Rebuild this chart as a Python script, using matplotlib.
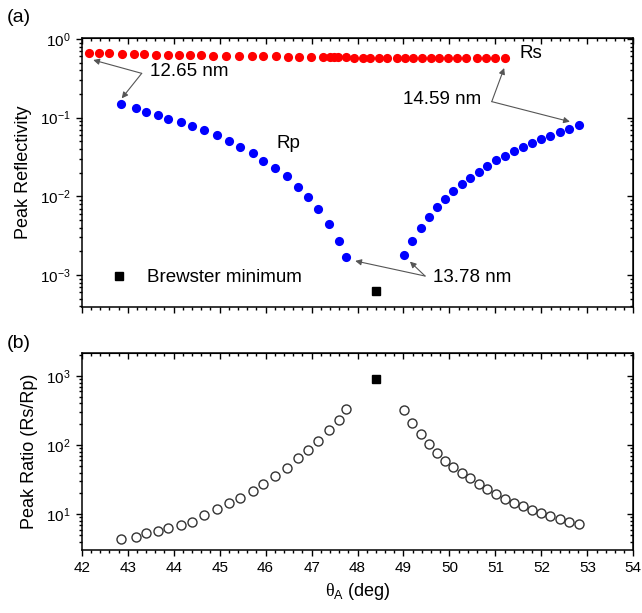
import numpy as np
import matplotlib
matplotlib.use("Agg")
import matplotlib.pyplot as plt
from matplotlib.ticker import LogLocator, NullFormatter, MultipleLocator

plt.rcParams['font.family'] = ['Liberation Sans', 'DejaVu Sans']
plt.rcParams['mathtext.fontset'] = 'custom'
plt.rcParams['mathtext.rm'] = 'Liberation Serif'
plt.rcParams['mathtext.sf'] = 'Liberation Sans'

# Rs peak reflectivity
rs_angle = [42.16, 42.38, 42.59, 42.87, 43.14, 43.36, 43.62, 43.88, 44.12, 44.35,
            44.60, 44.86, 45.14, 45.42, 45.71, 45.95, 46.23, 46.49, 46.73, 46.98,
            47.25, 47.40, 47.49, 47.58, 47.76, 47.93, 48.11, 48.28, 48.46, 48.65,
            48.85, 49.03, 49.21, 49.40, 49.59, 49.78, 49.97, 50.16, 50.36, 50.59,
            50.79, 50.99, 51.21]
rs_peak = [0.658, 0.658, 0.658, 0.650, 0.645, 0.645, 0.632, 0.626, 0.626, 0.626,
           0.621, 0.614, 0.608, 0.608, 0.608, 0.603, 0.603, 0.596, 0.596, 0.590,
           0.585, 0.585, 0.585, 0.585, 0.585, 0.582, 0.582, 0.579, 0.579, 0.579,
           0.574, 0.574, 0.574, 0.574, 0.574, 0.569, 0.569, 0.569, 0.569, 0.569,
           0.569, 0.569, 0.569]

# Rp peak reflectivity, both branches
rp_angle = [42.86, 43.18, 43.40, 43.65, 43.88, 44.15, 44.40, 44.66, 44.95, 45.21,
            45.45, 45.72, 45.95, 46.20, 46.46, 46.71, 46.92, 47.14, 47.37, 47.59, 47.76,
            49.01, 49.19, 49.38, 49.55, 49.72, 49.91, 50.08, 50.27, 50.45, 50.64,
            50.82, 51.02, 51.21, 51.40, 51.60, 51.80, 51.99, 52.19, 52.40, 52.61, 52.82]
rp_peak = [0.148, 0.133, 0.119, 0.108, 0.097, 0.0873, 0.0791, 0.0697, 0.0597, 0.0501,
           0.0428, 0.0352, 0.0284, 0.0227, 0.0181, 0.0133, 0.00973, 0.00690, 0.00445, 0.00273, 0.00168,
           0.00178, 0.00273, 0.00399, 0.00542, 0.00726, 0.00925, 0.0116, 0.0142, 0.0171, 0.0206,
           0.0245, 0.0287, 0.0330, 0.0380, 0.0426, 0.0481, 0.0531, 0.0590, 0.0658, 0.0711, 0.0800]

# peak ratio Rs/Rp at the Rp angles
ratio = [4.40, 4.75, 5.31, 5.74, 6.28, 7.00, 7.82, 9.77, 11.9, 14.4,
         17.4, 21.7, 27.4, 36.2, 47.1, 64.4, 85.0, 115, 164, 231, 330,
         321, 211, 145, 104, 77.7, 59.5, 48.8, 39.9, 33.1, 27.4,
         23.0, 19.6, 16.6, 14.7, 13.2, 11.5, 10.3, 9.44, 8.63, 7.82, 7.24]

brewster_angle = 48.40
brewster_rp = 6.3e-4
brewster_ratio = 906

fig = plt.figure(figsize=(6.42, 6.13), dpi=100)
ax1 = fig.add_axes([0.1273, 0.4992, 0.8592, 0.4388])
ax2 = fig.add_axes([0.1273, 0.1028, 0.8592, 0.3214])

# %% top panel
ax1.plot(rs_angle, rs_peak, 'o', color='#ff0000', ms=6.6, mec='none')
ax1.plot(rp_angle, rp_peak, 'o', color='#0000ff', ms=6.6, mec='none')
bm, = ax1.plot([brewster_angle], [brewster_rp], 's', color='black', ms=5.2)
ax1.set_yscale('log')
ax1.set_ylim(3.92e-4, 1.03)
ax1.set_ylabel('Peak Reflectivity', fontsize=13, labelpad=6)
ax1.legend([bm], ['Brewster minimum'], loc='lower left', bbox_to_anchor=(0.02, 0.015),
           frameon=False, handlelength=1.0, handletextpad=1.0, fontsize=13.5)

arrow = dict(arrowstyle='-|>', color='#555555', lw=0.8, mutation_scale=9,
             shrinkA=0, shrinkB=0)
# 12.65 nm
ax1.text(43.49, 0.381, '12.65 nm', fontsize=13.5, ha='left', va='center')
ax1.annotate('', xy=(42.25, 0.541), xytext=(43.305, 0.366), arrowprops=arrow)
ax1.annotate('', xy=(42.87, 0.176), xytext=(43.305, 0.366), arrowprops=arrow)
# 14.59 nm
ax1.text(48.99, 0.168, '14.59 nm', fontsize=13.5, ha='left', va='center')
ax1.annotate('', xy=(51.19, 0.428), xytext=(50.92, 0.160), arrowprops=arrow)
ax1.annotate('', xy=(52.62, 0.0889), xytext=(50.92, 0.160), arrowprops=arrow)
# 13.78 nm
ax1.text(49.64, 9.4e-4, '13.78 nm', fontsize=13.5, ha='left', va='center')
ax1.annotate('', xy=(47.95, 1.51e-3), xytext=(49.47, 9.7e-4), arrowprops=arrow)
ax1.annotate('', xy=(49.14, 1.48e-3), xytext=(49.47, 9.7e-4), arrowprops=arrow)

ax1.text(51.53, 0.66, 'Rs', fontsize=13.5, ha='left', va='center')
ax1.text(46.24, 0.0476, 'Rp', fontsize=13.5, ha='left', va='center')

# %% bottom panel
ax2.plot(rp_angle, ratio, 'o', mfc='none', mec='#333333', mew=1.0, ms=6.5)
ax2.plot([brewster_angle], [brewster_ratio], 's', color='black', ms=5.2)
ax2.set_yscale('log')
ax2.set_ylim(3.05, 2148)
ax2.set_ylabel('Peak Ratio (Rs/Rp)', fontsize=13, labelpad=6)
ax2.set_xlabel(r'$\mathrm{\theta}_{\mathsf{A}}$ (deg)', fontsize=13, labelpad=4)

for ax in (ax1, ax2):
    ax.set_xlim(42, 54)
    ax.xaxis.set_major_locator(MultipleLocator(1))
    ax.xaxis.set_minor_locator(MultipleLocator(0.2))
    ax.yaxis.set_major_locator(LogLocator(base=10))
    ax.yaxis.set_minor_locator(LogLocator(base=10, subs=np.arange(2, 10)))
    ax.yaxis.set_minor_formatter(NullFormatter())
    ax.tick_params(which='both', direction='out', width=1.0, labelsize=11)
    ax.tick_params(which='major', length=4.5)
    ax.tick_params(which='minor', length=2.5)
    for s in ax.spines.values():
        s.set_linewidth(1.1)
    top = ax.secondary_xaxis('top')
    top.xaxis.set_major_locator(MultipleLocator(1))
    top.xaxis.set_minor_locator(MultipleLocator(0.2))
    top.tick_params(which='both', direction='in', labeltop=False, width=1.0)
    top.tick_params(which='major', length=4.5)
    top.tick_params(which='minor', length=2.5)
    right = ax.secondary_yaxis('right')
    right.yaxis.set_major_locator(LogLocator(base=10))
    right.yaxis.set_minor_locator(LogLocator(base=10, subs=np.arange(2, 10)))
    right.tick_params(which='both', direction='in', labelright=False, width=1.0)
    right.tick_params(which='major', length=4.5)
    right.tick_params(which='minor', length=2.5)

ax1.tick_params(labelbottom=False)

fig.text(0.011, 0.972, '(a)', fontsize=14, va='center')
fig.text(0.011, 0.440, '(b)', fontsize=14, va='center')

fig.savefig('out.png', dpi=100)
